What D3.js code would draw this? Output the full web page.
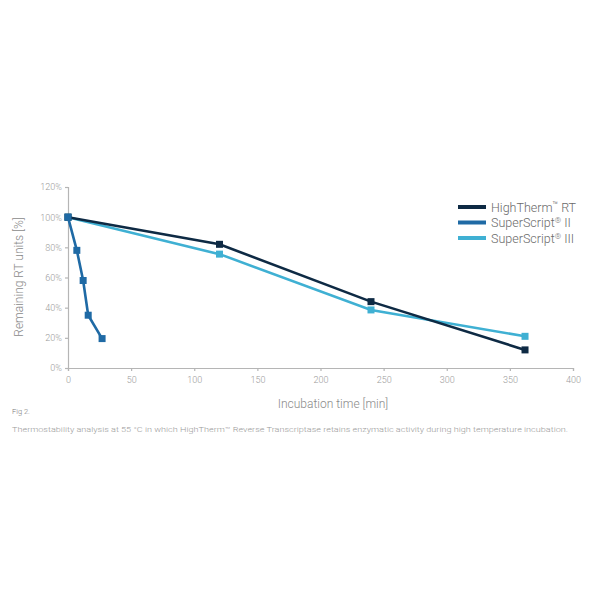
<!DOCTYPE html>
<html>
<head>
<meta charset="utf-8">
<script src="https://cdn.jsdelivr.net/npm/d3@7"></script>
<style>
  body { margin: 0; background: #fff; }
  text { font-family: Roboto, "Liberation Sans", sans-serif; font-weight: 300; }
</style>
</head>
<body>
<div id="chart"></div>
<script>
// Data
var highThermTime = [0, 120, 240, 362];
var highThermValues = [100, 82, 44, 12];

var ss2Time = [0, 7, 12, 16, 27];
var ss2Values = [100, 78, 58, 35, 19.5];

var ss3Time = [0, 120, 240, 362];
var ss3Values = [100, 75.5, 38.5, 21];

var xTicks = [0, 50, 100, 150, 200, 250, 300, 350, 400];
var yTicks = [0, 20, 40, 60, 80, 100, 120];

var seriesNames = ["HighTherm", "SuperScript", "SuperScript"];
var seriesMarks = ["\u2122", "\u00ae", "\u00ae"];
var seriesTails = [" RT", " II", " III"];
var colors = ["#0e2a44", "#1f6aa5", "#3fb0d3"];

var svgWidth = 600;
var svgHeight = 600;

var margin = { top: 187, left: 68 };
var width = 505;
var height = 181;

var svg = d3.select("#chart")
  .append("svg")
  .attr("width", svgWidth)
  .attr("height", svgHeight);

var chartGroup = svg.append("g")
  .attr("transform", `translate(${margin.left}, ${margin.top})`);

var x = d3.scaleLinear().domain([0, 400]).range([0, width]);
var y = d3.scaleLinear().domain([0, 120]).range([height, 0]);

// axes
var xAxis = chartGroup.append("g")
  .attr("transform", `translate(0, ${height})`)
  .call(d3.axisBottom(x).tickValues(xTicks).tickSize(3).tickPadding(6));

var yAxis = chartGroup.append("g")
  .call(d3.axisLeft(y).tickValues(yTicks).tickSize(3).tickPadding(3)
    .tickFormat(d => d + "%"));

[xAxis, yAxis].forEach(function(ax) {
  ax.selectAll("path, line").attr("stroke", "#b5b5b5").attr("stroke-width", 1.2);
  ax.selectAll("text").attr("fill", "#9a9a9a").style("font-size", "9px");
});

// series
var series = [
  highThermTime.map((t, i) => ({ t: t, v: highThermValues[i] })),
  ss2Time.map((t, i) => ({ t: t, v: ss2Values[i] })),
  ss3Time.map((t, i) => ({ t: t, v: ss3Values[i] }))
];

var line = d3.line().x(d => x(d.t)).y(d => y(d.v));

// draw order: SS3 first, then HighTherm, SS2 on top
[2, 0, 1].forEach(function(k) {
  var g = chartGroup.append("g");
  g.append("path")
    .datum(series[k])
    .attr("d", line)
    .attr("fill", "none")
    .attr("stroke", colors[k])
    .attr("stroke-width", 2.6);
  g.selectAll("rect")
    .data(series[k])
    .enter()
    .append("rect")
    .attr("x", d => x(d.t) - 3.5)
    .attr("y", d => y(d.v) - 3.5)
    .attr("width", 7)
    .attr("height", 7)
    .attr("fill", colors[k]);
});

// legend
var legend = svg.append("g")
  .attr("transform", "translate(458, 207)");

seriesNames.forEach(function(name, i) {
  var row = legend.append("g").attr("transform", `translate(0, ${i * 15.5})`);
  row.append("line")
    .attr("x1", 0).attr("x2", 28)
    .attr("stroke", colors[i])
    .attr("stroke-width", 4);
  var t = row.append("text")
    .attr("x", 33)
    .attr("y", 4.5)
    .attr("fill", "#6a6a6a")
    .style("font-size", "12.5px");
  t.append("tspan").text(name);
  t.append("tspan")
    .attr("dy", -4)
    .style("font-size", i === 0 ? "9px" : "8px")
    .text(seriesMarks[i]);
  t.append("tspan")
    .attr("dy", 4)
    .text(seriesTails[i]);
});

// axis titles
svg.append("text")
  .attr("transform", "translate(23, 277) rotate(-90)")
  .attr("text-anchor", "middle")
  .attr("fill", "#8a8a8a")
  .style("font-size", "12px")
  .text("Remaining RT units [%]");

svg.append("text")
  .attr("x", 333)
  .attr("y", 408)
  .attr("text-anchor", "middle")
  .attr("fill", "#8a8a8a")
  .style("font-size", "12px")
  .text("Incubation time [min]");

// caption
svg.append("text")
  .attr("x", 12)
  .attr("y", 414)
  .attr("fill", "#7a7a7a")
  .style("font-size", "7.5px")
  .text("Fig 2.");

svg.append("text")
  .attr("x", 12)
  .attr("y", 432)
  .attr("fill", "#9a9a9a")
  .style("font-size", "7.5px")
  .attr("textLength", 556)
  .attr("lengthAdjust", "spacingAndGlyphs")
  .text("Thermostability analysis at 55 \u00b0C in which HighTherm\u2122 Reverse Transcriptase retains enzymatic activity during high temperature incubation.");
</script>
</body>
</html>
